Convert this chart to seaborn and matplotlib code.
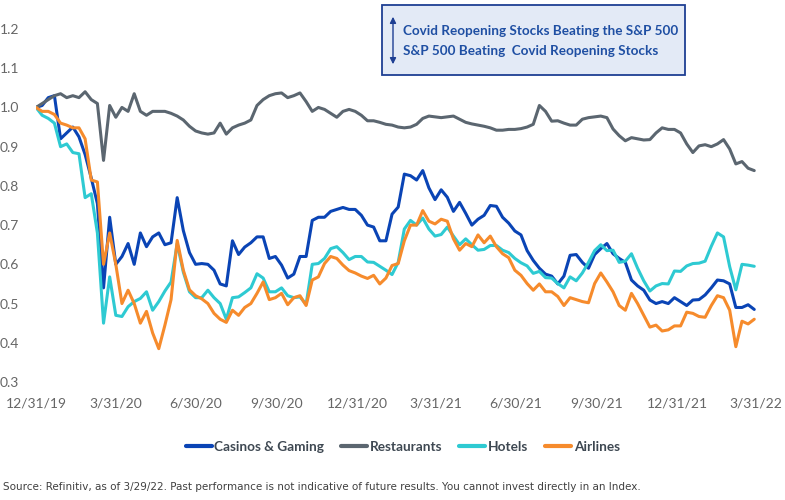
import pandas as pd
import numpy as np
import matplotlib
matplotlib.use('Agg')
import matplotlib.pyplot as plt
import matplotlib.patches as patches
import seaborn as sns

# weekly closes, indexed to 1.0 on 12/31/19
dates = pd.date_range('2019-12-31', '2022-03-29', freq='7D')

casinos = [1.00, 1.005, 1.025, 1.03, 0.92, 0.935, 0.95, 0.925, 0.88, 0.82,
           0.755, 0.54, 0.72, 0.60, 0.62, 0.653, 0.60, 0.68, 0.645, 0.67,
           0.68, 0.65, 0.655, 0.77, 0.686, 0.63, 0.60, 0.602, 0.60, 0.585,
           0.55, 0.545, 0.66, 0.625, 0.644, 0.655, 0.67, 0.67, 0.615, 0.62,
           0.598, 0.565, 0.575, 0.62, 0.62, 0.712, 0.72, 0.72, 0.735, 0.74,
           0.745, 0.74, 0.74, 0.725, 0.70, 0.695, 0.66, 0.66, 0.728, 0.746,
           0.83, 0.826, 0.815, 0.839, 0.795, 0.765, 0.79, 0.771, 0.735, 0.758,
           0.73, 0.70, 0.715, 0.725, 0.75, 0.748, 0.72, 0.705, 0.685, 0.675,
           0.635, 0.61, 0.59, 0.575, 0.57, 0.55, 0.57, 0.623, 0.625, 0.605,
           0.59, 0.625, 0.64, 0.653, 0.627, 0.615, 0.605, 0.56, 0.545, 0.534,
           0.509, 0.50, 0.505, 0.50, 0.515, 0.505, 0.495, 0.509, 0.51, 0.522,
           0.54, 0.56, 0.558, 0.55, 0.49, 0.49, 0.497, 0.485]

restaurants = [1.00, 1.01, 1.02, 1.03, 1.035, 1.025, 1.03, 1.025, 1.04, 1.02,
               1.01, 0.865, 1.005, 0.975, 1.00, 0.99, 1.035, 0.99, 0.98, 0.99,
               0.99, 0.99, 0.985, 0.978, 0.968, 0.952, 0.94, 0.935, 0.932, 0.935,
               0.96, 0.932, 0.948, 0.955, 0.96, 0.968, 1.005, 1.02, 1.03, 1.035,
               1.037, 1.025, 1.03, 1.037, 1.015, 0.99, 1.00, 0.995, 0.985, 0.975,
               0.99, 0.995, 0.99, 0.98, 0.966, 0.966, 0.962, 0.957, 0.955, 0.95,
               0.948, 0.95, 0.957, 0.972, 0.978, 0.976, 0.974, 0.976, 0.978, 0.97,
               0.962, 0.958, 0.955, 0.952, 0.948, 0.942, 0.942, 0.944, 0.944, 0.946,
               0.95, 0.957, 1.005, 0.99, 0.965, 0.966, 0.96, 0.955, 0.955, 0.97,
               0.974, 0.976, 0.978, 0.974, 0.945, 0.928, 0.915, 0.923, 0.92, 0.917,
               0.918, 0.935, 0.948, 0.944, 0.944, 0.935, 0.907, 0.885, 0.902, 0.905,
               0.90, 0.907, 0.918, 0.894, 0.856, 0.862, 0.845, 0.839]

hotels = [1.00, 0.98, 0.972, 0.96, 0.90, 0.907, 0.885, 0.882, 0.77, 0.78,
          0.68, 0.45, 0.568, 0.47, 0.467, 0.492, 0.505, 0.513, 0.53, 0.483,
          0.505, 0.532, 0.555, 0.653, 0.58, 0.53, 0.515, 0.515, 0.534, 0.515,
          0.50, 0.46, 0.515, 0.517, 0.528, 0.54, 0.576, 0.565, 0.53, 0.53,
          0.54, 0.52, 0.515, 0.517, 0.498, 0.60, 0.602, 0.615, 0.64, 0.645,
          0.63, 0.612, 0.62, 0.62, 0.606, 0.605, 0.595, 0.585, 0.574, 0.605,
          0.69, 0.712, 0.70, 0.718, 0.69, 0.672, 0.676, 0.695, 0.672, 0.65,
          0.665, 0.65, 0.636, 0.638, 0.648, 0.648, 0.636, 0.63, 0.615, 0.604,
          0.596, 0.577, 0.582, 0.566, 0.565, 0.551, 0.54, 0.568, 0.558, 0.578,
          0.605, 0.635, 0.65, 0.635, 0.636, 0.605, 0.608, 0.627, 0.59, 0.558,
          0.532, 0.545, 0.551, 0.55, 0.583, 0.582, 0.596, 0.602, 0.603, 0.608,
          0.646, 0.68, 0.67, 0.594, 0.535, 0.60, 0.598, 0.595]

airlines = [1.00, 0.99, 0.99, 0.982, 0.96, 0.955, 0.948, 0.948, 0.92, 0.815,
            0.81, 0.60, 0.68, 0.60, 0.50, 0.534, 0.50, 0.45, 0.48, 0.425,
            0.385, 0.445, 0.51, 0.661, 0.585, 0.535, 0.52, 0.512, 0.50, 0.475,
            0.46, 0.452, 0.483, 0.47, 0.49, 0.50, 0.526, 0.555, 0.51, 0.515,
            0.526, 0.497, 0.515, 0.52, 0.495, 0.56, 0.568, 0.602, 0.62, 0.615,
            0.598, 0.584, 0.578, 0.57, 0.564, 0.572, 0.55, 0.565, 0.597, 0.602,
            0.66, 0.70, 0.70, 0.737, 0.71, 0.703, 0.715, 0.71, 0.665, 0.636,
            0.653, 0.645, 0.675, 0.655, 0.672, 0.645, 0.627, 0.617, 0.585, 0.572,
            0.551, 0.534, 0.55, 0.53, 0.53, 0.518, 0.495, 0.515, 0.51, 0.505,
            0.502, 0.551, 0.578, 0.555, 0.53, 0.495, 0.483, 0.526, 0.50, 0.47,
            0.44, 0.445, 0.43, 0.433, 0.443, 0.443, 0.478, 0.475, 0.467, 0.465,
            0.495, 0.52, 0.515, 0.483, 0.39, 0.455, 0.448, 0.46]

series_names = ['Casinos & Gaming', 'Restaurants', 'Hotels', 'Airlines']
series_colors = ['#0a44b5', '#5b6670', '#2ecad2', '#f68b2c']

x_tick_dates = ['2019-12-31', '2020-03-31', '2020-06-30', '2020-09-30', '2020-12-31',
                '2021-03-31', '2021-06-30', '2021-09-30', '2021-12-31', '2022-03-31']
x_tick_labels = ['12/31/19', '3/31/20', '6/30/20', '9/30/20', '12/31/20',
                 '3/31/21', '6/30/21', '9/30/21', '12/31/21', '3/31/22']
y_ticks = [0.3, 0.4, 0.5, 0.6, 0.7, 0.8, 0.9, 1.0, 1.1, 1.2]
y_tick_labels = ['0.3', '0.4', '0.5', '0.6', '0.7', '0.8', '0.9', '1.0', '1.1', '1.2']

df = pd.DataFrame({'Date': dates, 'Casinos & Gaming': casinos, 'Restaurants': restaurants,
                   'Hotels': hotels, 'Airlines': airlines})
long_df = df.melt(id_vars='Date', var_name='Sector', value_name='Value')

sns.set_style('white')
plt.rcParams['font.family'] = ['Lato', 'DejaVu Sans']

fig = plt.figure(figsize=(7.85, 5), dpi=100)
ax = fig.add_axes([36 / 785, 1 - 382 / 500, 720 / 785, 353 / 500])

sns.lineplot(data=long_df, x='Date', y='Value', hue='Sector', hue_order=series_names,
             palette=series_colors, linewidth=2.2, ax=ax)

ax.set_xlim(pd.Timestamp('2019-12-31'), pd.Timestamp('2022-03-31'))
ax.set_ylim(0.3, 1.2)
ax.set_xticks(pd.to_datetime(x_tick_dates))
ax.set_xticklabels(x_tick_labels)
ax.set_yticks(y_ticks)
ax.set_yticklabels(y_tick_labels)
ax.set_xlabel('')
ax.set_ylabel('')
ax.tick_params(axis='both', length=0, labelsize=10, labelcolor='#666666')
ax.tick_params(axis='x', pad=11)
ax.tick_params(axis='y', pad=12)
sns.despine(ax=ax, left=True, bottom=True)

sns.move_legend(ax, 'center', bbox_to_anchor=(0.513, 0.106), bbox_transform=fig.transFigure,
                ncol=4, frameon=False, title=None, handlelength=1.9, handletextpad=0.2,
                columnspacing=1.25, prop={'weight': 'bold', 'size': 9.8})
for line in ax.get_legend().get_lines():
    line.set_linewidth(3)
for t in ax.get_legend().get_texts():
    t.set_color('#3e4852')

# annotation box top right
box = patches.Rectangle((382 / 785, 1 - 75 / 500), 303 / 785, 70 / 500, transform=fig.transFigure,
                        facecolor='#e3eaf6', edgecolor='#1e3f93', linewidth=1.3)
fig.add_artist(box)
fig.add_artist(patches.FancyArrowPatch((393 / 785, 1 - 67 / 500), (393 / 785, 1 - 14 / 500),
                                       transform=fig.transFigure, arrowstyle='<|-|>',
                                       mutation_scale=9, color='#1e3f93', linewidth=1))
fig.text(403 / 785, 1 - 31 / 500, 'Covid Reopening Stocks Beating the S&P 500', color='#1f4fa3',
         fontsize=9.7, fontweight='bold', va='center', ha='left')
fig.text(403 / 785, 1 - 51 / 500, 'S&P 500 Beating  Covid Reopening Stocks', color='#1f4fa3',
         fontsize=9.7, fontweight='bold', va='center', ha='left')

fig.text(3 / 785, 1 - 487 / 500,
         'Source: Refinitiv, as of 3/29/22. Past performance is not indicative of future results. '
         'You cannot invest directly in an Index.',
         color='#404040', fontsize=7.5, va='center', ha='left',
         family=['Liberation Sans Narrow', 'DejaVu Sans'])

fig.savefig('out.png', dpi=100)
